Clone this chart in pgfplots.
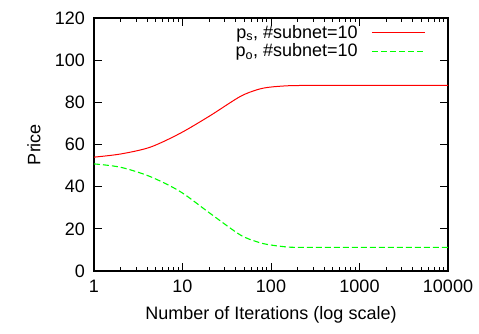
\documentclass[border=0pt]{standalone}
\usepackage{pgfplots}
\pgfplotsset{compat=1.18}
\usepackage{fontspec}
\setmainfont{Liberation Sans}
\begin{document}
\fontsize{18}{21}\selectfont
\begin{tikzpicture}
\begin{axis}[
  name=ax,
  scale only axis,
  width=354pt, height=253pt,
  xmode=log, log basis x=10,
  xmin=1, xmax=10000, ymin=0, ymax=120,
  xtick={1,10,100,1000,10000},
  xticklabels={1,10,100,1000,10000},
  minor xtick={2,3,4,5,6,7,8,9,20,30,40,50,60,70,80,90,200,300,400,500,600,700,800,900,2000,3000,4000,5000,6000,7000,8000,9000},
  ytick={0,20,40,60,80,100,120},
  /pgf/number format/assume math mode=true,
  tick label style={font=\fontsize{18}{21}\selectfont},
  label style={font=\fontsize{18}{21}\selectfont},
  tick align=inside,
  major tick length=8pt, minor tick length=4pt,
  every tick/.style={black, line width=1pt},
  axis line style={line width=1.3pt},
  xlabel={Number of Iterations (log scale)},
  ylabel={Price},
  xticklabel style={yshift=-3pt},
  yticklabel style={xshift=-3pt},
  xlabel style={yshift=-1pt},
  ylabel style={yshift=2pt},
  legend style={draw=none, fill=none, at={(rel axis cs:0.945,0.985)}, anchor=north east,
    legend cell align=right, row sep=1pt, nodes={inner sep=1pt},
    font=\fontsize{18}{21}\selectfont},
  legend plot pos=right,
  legend image code/.code={\path[draw=none, fill=none] (0pt,0pt) -- (13pt,0pt); \draw[#1] (13pt,0pt) -- (66pt,0pt);},
]
\addplot[red, line width=1pt, smooth] coordinates {
(1,54.0) (2,55.5) (4.3,58.7) (9.4,65.3) (20.4,73.6) (44.6,82.7) (70,86.0) (97,87.2) (163,87.9) (300,88.0) (1000,88.0) (3000,88.0) (10000,88.0)};
\addlegendentry{p\textsubscript{s}, \#subnet=10}
\addplot[green, line width=1.1pt, smooth, dash pattern=on 6pt off 3pt] coordinates {
(1,50.8) (2,49.2) (4.3,44.8) (9.4,37.7) (20.4,27.4) (44.6,17.2) (70,13.8) (97,12.4) (163,11.3) (300,11.2) (1000,11.2) (3000,11.2) (10000,11.2)};
\addlegendentry{p\textsubscript{o}, \#subnet=10}
\end{axis}
\pgfresetboundingbox
\path[use as bounding box] ([xshift=-94pt,yshift=-63pt]ax.south west) rectangle ([xshift=31pt,yshift=18pt]ax.north east);
\end{tikzpicture}
\end{document}
